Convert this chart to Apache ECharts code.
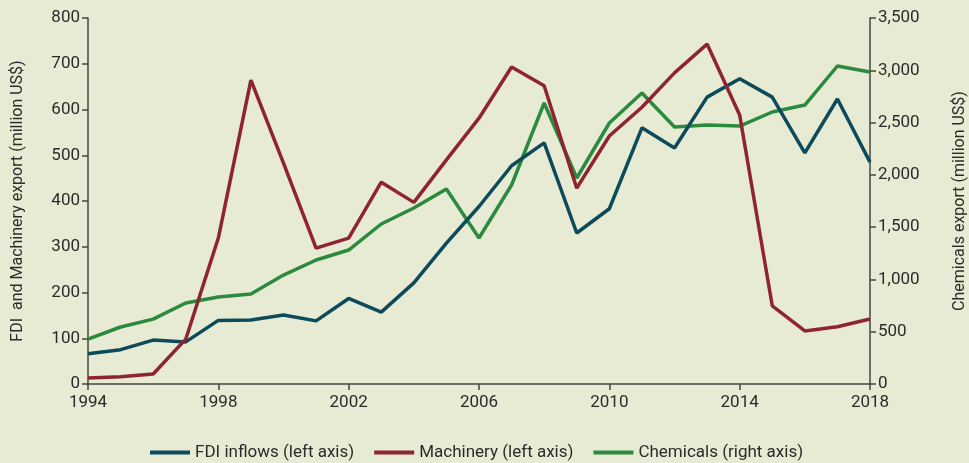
<!DOCTYPE html>
<html>
<head>
<meta charset="utf-8">
<script src="https://cdn.jsdelivr.net/npm/echarts@6/dist/echarts.min.js"></script>
<style>
  html, body { margin: 0; padding: 0; background: #e8ebd3; }
  #chart { width: 969px; height: 463px; }
</style>
</head>
<body>
<div id="chart"></div>
<script>
const years = [1994, 1995, 1996, 1997, 1998, 1999, 2000, 2001, 2002, 2003, 2004, 2005,
  2006, 2007, 2008, 2009, 2010, 2011, 2012, 2013, 2014, 2015, 2016, 2017, 2018]
const fdiInflows = [66, 75, 96, 92, 139, 140, 151, 138, 187, 157, 221, 308,
  388, 477, 527, 330, 383, 560, 516, 627, 667, 627, 505, 623, 485]
const machinery = [13, 16, 22, 98, 319, 664, 483, 297, 319, 441, 397, 490,
  581, 693, 652, 428, 542, 605, 680, 743, 588, 171, 116, 125, 142]
const chemicals = [430, 545, 620, 775, 832, 861, 1042, 1186, 1281, 1530, 1683, 1865,
  1396, 1903, 2687, 1970, 2496, 2783, 2458, 2477, 2467, 2601, 2668, 3041, 2984]

const font = 'Roboto, "Liberation Sans", sans-serif'
const ink = '#2b2b2b'

const pairs = (vals) => years.map((y, i) => [y, vals[i]])

const chart = echarts.init(document.getElementById('chart'))
chart.setOption({
  backgroundColor: '#e8ebd3',
  animation: false,
  grid: { left: 88, right: 99, top: 18, bottom: 79, containLabel: false, outerBoundsMode: 'none' },
  legend: {
    top: 444,
    left: 150,
    padding: 0,
    icon: 'rect',
    itemWidth: 40,
    itemHeight: 4,
    itemGap: 20,
    textStyle: { fontFamily: font, fontSize: 17, color: ink },
    data: ['FDI inflows (left axis)', 'Machinery (left axis)', 'Chemicals (right axis)']
  },
  xAxis: {
    type: 'value',
    min: 1994, max: 2018, interval: 4,
    axisLine: { lineStyle: { color: '#444', width: 1.5 } },
    axisTick: { show: true, length: 6, lineStyle: { color: '#444', width: 1.5 } },
    axisLabel: { fontFamily: font, fontSize: 17, color: ink, margin: 10, formatter: v => String(v) },
    splitLine: { show: false }
  },
  yAxis: [
    {
      type: 'value',
      min: 0, max: 800, interval: 100,
      name: 'FDI  and Machinery export (million US$)',
      nameLocation: 'middle',
      nameGap: 62,
      nameTextStyle: { fontFamily: font, fontSize: 16, color: ink },
      axisLine: { show: true, lineStyle: { color: '#444', width: 1.5 } },
      axisTick: { show: true, length: 6, lineStyle: { color: '#444', width: 1.5 } },
      axisLabel: { fontFamily: font, fontSize: 17, color: ink, margin: 8 },
      splitLine: { show: false }
    },
    {
      type: 'value',
      min: 0, max: 3500, interval: 500,
      position: 'right',
      name: 'Chemicals export (million US$)',
      nameLocation: 'middle',
      nameGap: 82,
      nameRotate: 90,
      nameTextStyle: { fontFamily: font, fontSize: 16, color: ink },
      axisLine: { show: true, lineStyle: { color: '#444', width: 1.5 } },
      axisTick: { show: true, length: 6, lineStyle: { color: '#444', width: 1.5 } },
      axisLabel: {
        fontFamily: font, fontSize: 17, color: ink, margin: 8,
        formatter: v => v.toLocaleString('en-US')
      },
      splitLine: { show: false }
    }
  ],
  series: [
    {
      name: 'FDI inflows (left axis)', type: 'line', yAxisIndex: 0,
      data: pairs(fdiInflows), symbol: 'none',
      lineStyle: { color: '#0c4a5c', width: 3.5 }, itemStyle: { color: '#0c4a5c' }
    },
    {
      name: 'Machinery (left axis)', type: 'line', yAxisIndex: 0,
      data: pairs(machinery), symbol: 'none',
      lineStyle: { color: '#8e2430', width: 3.5 }, itemStyle: { color: '#8e2430' }
    },
    {
      name: 'Chemicals (right axis)', type: 'line', yAxisIndex: 1,
      data: pairs(chemicals), symbol: 'none', z: 1,
      lineStyle: { color: '#2b8a3e', width: 3.5 }, itemStyle: { color: '#2b8a3e' }
    }
  ]
})
</script>
</body>
</html>
